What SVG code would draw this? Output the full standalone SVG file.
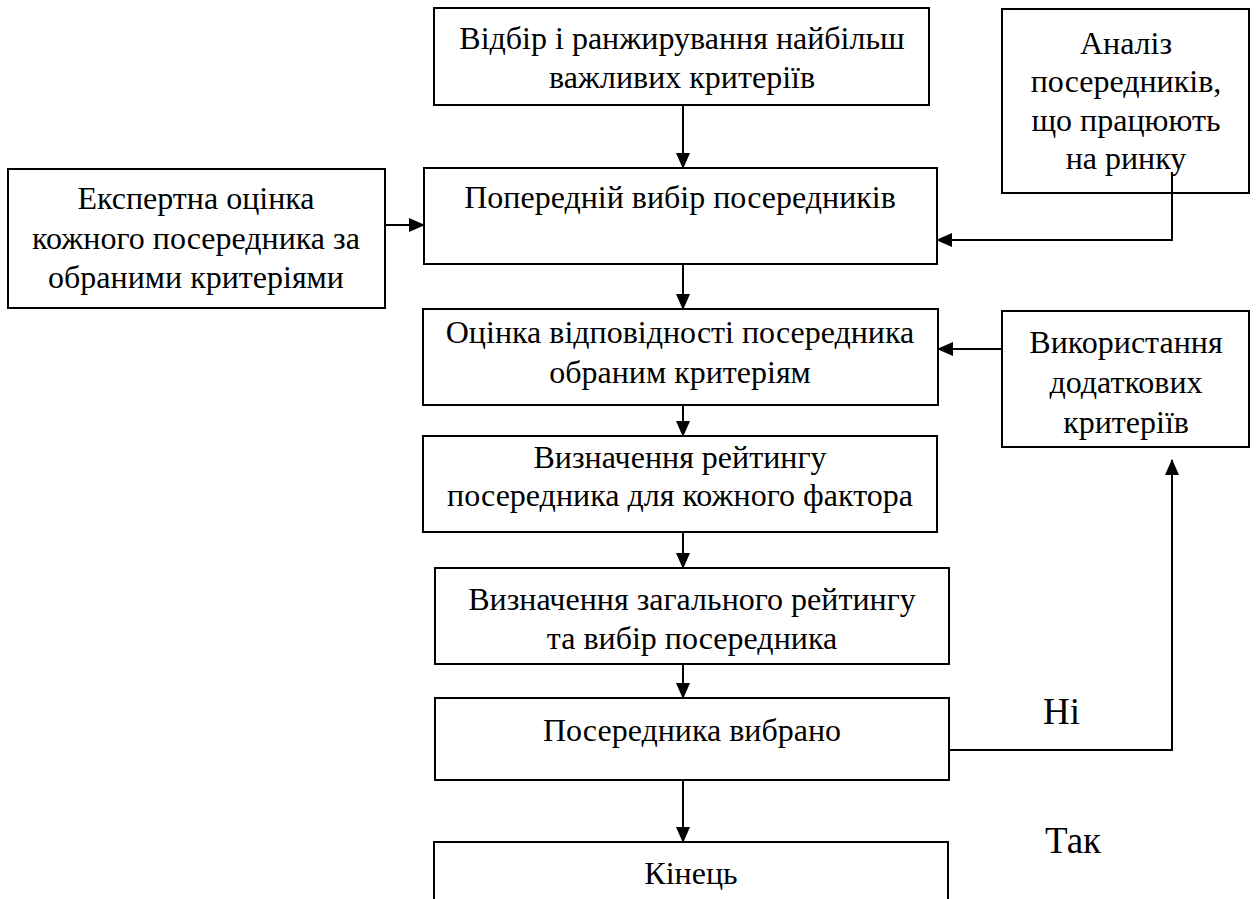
<svg xmlns="http://www.w3.org/2000/svg" width="1257" height="899" viewBox="0 0 1257 899">
<defs>
<marker id="ah" markerWidth="16" markerHeight="14" refX="15" refY="7" orient="auto" markerUnits="userSpaceOnUse">
<path d="M0,0 L16,7 L0,14 Z" fill="#000"/>
</marker>
<style>
.box{fill:#fff;stroke:#000;stroke-width:2}
.t{font-family:"Liberation Serif","Times New Roman",serif;font-size:32px;fill:#000;text-anchor:middle}
.lbl{font-family:"Liberation Serif","Times New Roman",serif;font-size:37px;fill:#000}
.c{fill:none;stroke:#000;stroke-width:2}
</style>
</defs>
<rect width="1257" height="899" fill="#fff"/>
<g id="n1"><rect class="box" x="434" y="8" width="495" height="97"/>
<text class="t" x="682" y="49">Відбір і ранжирування найбільш</text>
<text class="t" x="682" y="88">важливих критеріїв</text></g>
<g id="n2"><rect class="box" x="1002" y="9" width="247" height="184"/>
<text class="t" x="1126" y="54">Аналіз</text>
<text class="t" x="1126" y="92">посередників,</text>
<text class="t" x="1126" y="131">що працюють</text>
<text class="t" x="1126" y="169">на ринку</text></g>
<g id="n3"><rect class="box" x="8" y="169" width="377" height="139"/>
<text class="t" x="196" y="209">Експертна оцінка</text>
<text class="t" x="196" y="249">кожного посередника за</text>
<text class="t" x="196" y="288">обраними критеріями</text></g>
<g id="n4"><rect class="box" x="424" y="168" width="513" height="96"/>
<text class="t" x="680" y="208">Попередній вибір посередників</text></g>
<g id="n5"><rect class="box" x="423" y="309" width="515" height="96"/>
<text class="t" x="680" y="343">Оцінка відповідності посередника</text>
<text class="t" x="680" y="383">обраним критеріям</text></g>
<g id="n6"><rect class="box" x="1002" y="311" width="247" height="136"/>
<text class="t" x="1126" y="353">Використання</text>
<text class="t" x="1126" y="393">додаткових</text>
<text class="t" x="1126" y="433">критеріїв</text></g>
<g id="n7"><rect class="box" x="423" y="436" width="514" height="96"/>
<text class="t" x="680" y="468">Визначення рейтингу</text>
<text class="t" x="680" y="506">посередника для кожного фактора</text></g>
<g id="n8"><rect class="box" x="435" y="568" width="514" height="96"/>
<text class="t" x="692" y="610">Визначення загального рейтингу</text>
<text class="t" x="692" y="649">та вибір посередника</text></g>
<g id="n9"><rect class="box" x="435" y="698" width="514" height="82"/>
<text class="t" x="692" y="741">Посередника вибрано</text></g>
<g id="n10"><rect class="box" x="434" y="842" width="514" height="80"/>
<text class="t" x="691" y="884">Кінець</text></g>
<g id="connectors">
<line class="c" x1="683" y1="105" x2="683" y2="168" marker-end="url(#ah)"/>
<line class="c" x1="385" y1="225" x2="424" y2="225" marker-end="url(#ah)"/>
<polyline class="c" points="1172,172 1172,240 937,240" marker-end="url(#ah)"/>
<line class="c" x1="683" y1="264" x2="683" y2="309" marker-end="url(#ah)"/>
<line class="c" x1="1002" y1="349" x2="938" y2="349" marker-end="url(#ah)"/>
<line class="c" x1="683" y1="405" x2="683" y2="436" marker-end="url(#ah)"/>
<line class="c" x1="683" y1="532" x2="683" y2="568" marker-end="url(#ah)"/>
<line class="c" x1="683" y1="664" x2="683" y2="698" marker-end="url(#ah)"/>
<polyline class="c" points="949,750 1172,750 1172,460" marker-end="url(#ah)"/>
<line class="c" x1="683" y1="780" x2="683" y2="842" marker-end="url(#ah)"/>
<text class="lbl" x="1043" y="724">Ні</text>
<text class="lbl" x="1045" y="853">Так</text>
</g>
</svg>
